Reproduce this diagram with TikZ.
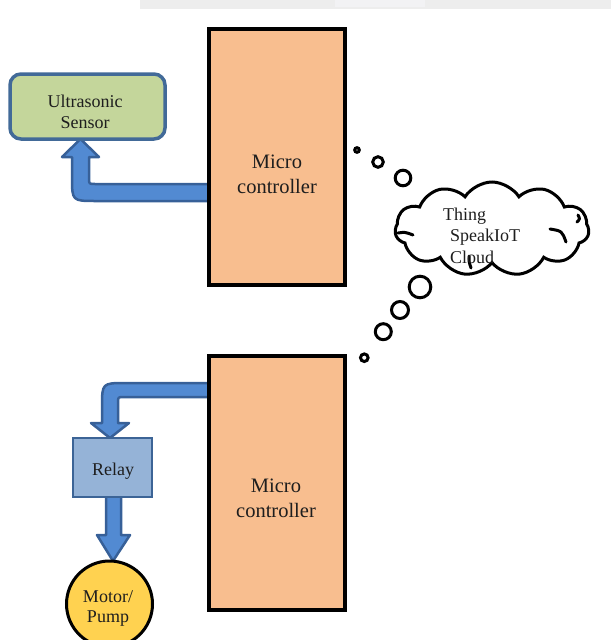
\documentclass[tikz,border=0pt]{standalone}
\usepackage{fontspec}
\setmainfont{Liberation Serif}
\usetikzlibrary{shapes.symbols,shapes.geometric}

\definecolor{mcufill}{RGB}{248,190,143}
\definecolor{sensfill}{RGB}{196,214,155}
\definecolor{sensline}{RGB}{66,106,152}
\definecolor{relayfill}{RGB}{149,179,215}
\definecolor{relayline}{RGB}{60,100,150}
\definecolor{arrowfill}{RGB}{82,138,210}
\definecolor{arrowline}{RGB}{55,96,152}
\definecolor{motorfill}{RGB}{255,210,80}
\definecolor{inktext}{RGB}{30,30,30}

\tikzset{
  mcubox/.style={draw=black, line width=3.5, fill=mcufill, inner sep=0,
                 minimum width=136},
  sensbox/.style={draw=sensline, line width=3.5, fill=sensfill,
                  rounded corners=11, inner sep=0},
  relaybox/.style={draw=relayline, line width=2.5, fill=relayfill, inner sep=0},
  blockarrow/.style={draw=arrowline, line width=2.5, fill=arrowfill,
                     line join=round},
  motordisc/.style={ellipse, draw=black, line width=3, fill=motorfill, inner sep=0},
  bubble/.style={draw=black, line width=3, fill=white},
  label/.style={text=inktext, inner sep=0, align=center},
  bigtext/.style={font=\fontsize{20.5}{25}\selectfont},
  smalltext/.style={font=\fontsize{18}{21.5}\selectfont},
}

\begin{document}
\begin{tikzpicture}[x=1pt, y=-1pt]
\useasboundingbox (0,0) rectangle (611,640);

% faint band along the top edge
\fill[black!7] (140,0) rectangle (611,9);
\fill[blue!12!black!5] (335,0) rectangle (425,7);

% ---- block arrows (drawn first, the boxes cover their ends) ----
% controller -> ultrasonic sensor
\draw[blockarrow] (210,184) -- (95,184) .. controls (89,184) .. (89,178)
  -- (89,157) -- (99,157) -- (80.5,139) -- (62,157) -- (72,157)
  -- (72,177) .. controls (72,201) .. (96,201) -- (210,201) -- cycle;

% controller -> relay
\draw[blockarrow] (210,383) -- (126,383) .. controls (102,383) .. (102,407)
  -- (102,423) -- (91,423) -- (110,438) -- (129,423) -- (118,423)
  -- (118,403) .. controls (118,397) .. (124,397) -- (210,397) -- cycle;

% relay -> motor
\draw[blockarrow] (106,494) -- (106,535) -- (97,535) -- (113,561)
  -- (130,535) -- (121,535) -- (121,494) -- cycle;

% ---- blocks ----
\node[mcubox, minimum height=256] (mcuA) at (277,157) {};
\node[label, bigtext] (mcuAtxt) at (277,174) {Micro\\controller};

\node[mcubox, minimum height=254] (mcuB) at (277,483) {};
\node[label, bigtext] (mcuBtxt) at (276,498) {Micro\\controller};

\node[sensbox, minimum width=155, minimum height=65] (sensor) at (87.5,106.5) {};
\node[label, smalltext] (sensortxt) at (85,112) {Ultrasonic\\Sensor};

\node[relaybox, minimum width=79, minimum height=59] (relay) at (112.5,467.5) {};
\node[label, smalltext] (relaytxt) at (113,471) {Relay};

\node[motordisc, minimum width=86, minimum height=86] (motor) at (109.5,604) {};
\node[label, font=\fontsize{18}{20}\selectfont] (motortxt) at (108,608) {Motor/\\Pump};

% ---- cloud ----
\node[cloud, draw=black, line width=3, fill=white, cloud puffs=11,
      cloud puff arc=115, aspect=2.1, inner sep=0,
      minimum width=194, minimum height=94] (cloud) at (492,229) {};
% inner curls of the cloud outline
\draw[line width=3, line cap=round] (398,233) .. controls (405,232) .. (413,235);
\draw[line width=3, line cap=round] (550,229) .. controls (562,231) .. (566,242);
\draw[line width=3, line cap=round] (578,215) .. controls (580,219) .. (577,222);
\draw[line width=3, line cap=round] (469,256) .. controls (469,262) .. (471,268);
\node[text=inktext, inner sep=0, align=left, anchor=north west,
      font=\fontsize{18}{21.5}\selectfont] (cloudtxt) at (443,207.7)
      {Thing\\\hspace*{7pt}SpeakIoT\\\hspace*{7pt}Cloud};

% ---- thought bubbles ----
\draw[bubble] (357,150) circle[radius=2.3];
\draw[bubble] (378,162) circle[radius=5.3];
\draw[bubble] (403,178) circle[radius=7.8];

\draw[bubble] (420,287) circle[radius=10.8];
\draw[bubble] (400,310) circle[radius=8.5];
\draw[bubble] (383.3,331.7) circle[radius=8];
\draw[bubble] (364.3,357.7) circle[radius=3.8];
\end{tikzpicture}
\end{document}
